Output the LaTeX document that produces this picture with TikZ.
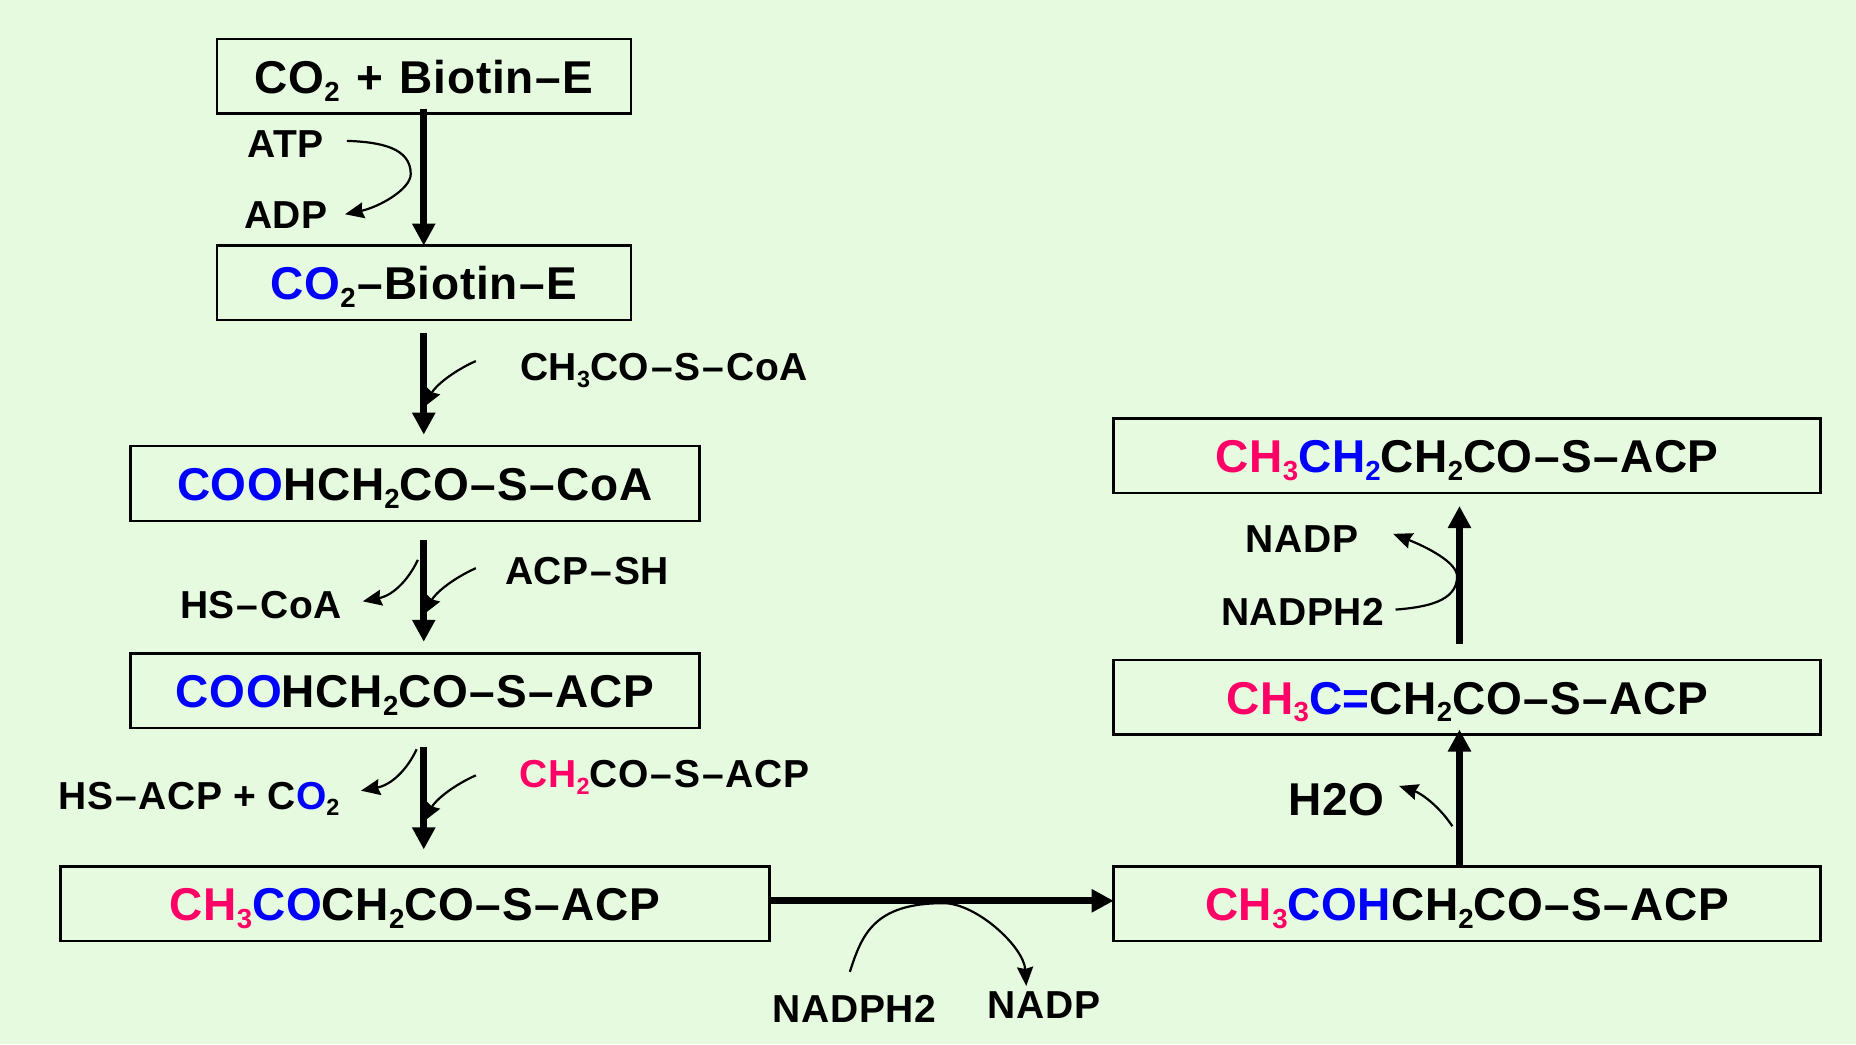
\documentclass[tikz,border=0pt]{standalone}
\usepackage{fontspec}
\setmainfont{Liberation Sans}[LetterSpace=1.5]
\usetikzlibrary{arrows.meta}
\definecolor{bgc}{HTML}{E6FAE0}
\definecolor{bluec}{HTML}{0000FF}
\definecolor{pinkc}{HTML}{FF0066}
\newcommand{\Bl}[1]{\textcolor{bluec}{#1}}
\newcommand{\Pk}[1]{\textcolor{pinkc}{#1}}
\newcommand{\dn}[1]{\raisebox{-0.17em}{\scalebox{0.6}{#1}}}
\newcommand{\dsk}{0.05}
\newcommand{\ds}{\kern\dsk em–\kern\dsk em}
\tikzset{
  boxn/.style={draw=black,line width=1.2pt,inner sep=0pt,outer sep=0pt,minimum height=37.3pt,
     text height=27.1pt,text depth=10.2pt,align=center,font=\fontsize{23}{23}\selectfont\bfseries\def\dsk{0.03}},
  lab/.style={anchor=base,inner sep=0pt,outer sep=0pt,yshift=0.2pt,font=\fontsize{19.5}{20}\selectfont\bfseries},
  mainarr/.style={line width=3.4pt,-{Triangle[length=11pt,width=11pt]}},
  thinarr/.style={line width=1.1pt,-{Stealth[length=9.5pt,width=8pt,inset=1pt]}}
}
\begin{document}
\begin{tikzpicture}[x=0.59184pt,y=-0.59184pt]
\path[fill=bgc] (0,0) rectangle (1568,882);
\useasboundingbox (0,0) rectangle (1568,882);
% boxes
\node[boxn,minimum width=207pt] (b1) at (358,64.5) {CO\dn{2}\kern0.08em{} + \kern0.06em{}Biotin\ds E};
\node[boxn,minimum width=207pt] (b2) at (358,239) {\Bl{CO}\dn{2}\ds Biotin\ds E};
\node[boxn,minimum width=284.5pt] (b3) at (350.5,408.5) {\Bl{COO}HCH\dn{2}CO\ds S\ds CoA};
\node[boxn,minimum width=284.5pt] (b4) at (350.5,583.5) {\Bl{COO}HCH\dn{2}CO\ds S\ds ACP};
\node[boxn,minimum width=354.5pt] (b5) at (350.5,763.5) {\Pk{CH\dn{3}}\Bl{CO}CH\dn{2}CO\ds S\ds ACP};
\node[boxn,minimum width=353.5pt] (b6) at (1239.5,763.5) {\Pk{CH\dn{3}}\Bl{COH}CH\dn{2}CO\ds S\ds ACP};
\node[boxn,minimum width=353.5pt] (b7) at (1239.5,589) {\Pk{CH\dn{3}}\Bl{C=}CH\dn{2}CO\ds S\ds ACP};
\node[boxn,minimum width=353.5pt] (b8) at (1239.5,385) {\Pk{CH\dn{3}}\Bl{CH\dn{2}}CH\dn{2}CO\ds S\ds ACP};
% labels
\node[lab] (atp) at (241.5,133) {ATP};
\node[lab] (adp) at (241.5,193) {ADP};
\node[lab] (acoa) at (561,322) {CH\dn{3}CO\ds S\ds CoA};
\node[lab] (acpsh) at (496,494) {ACP\ds SH};
\node[lab] (hscoa) at (220.5,523) {HS\ds CoA};
\node[lab] (mal) at (561.5,666) {\Pk{CH\dn{2}}CO\ds S\ds ACP};
\node[lab] (hsacp) at (168,684) {HS\ds ACP + C\Bl{O}\dn{2}};
\node[lab] (nph1) at (722,864) {NADPH2};
\node[lab] (np1) at (882,861) {NADP};
\node[lab,font=\fontsize{23}{23}\selectfont\bfseries] (hho) at (1129,689) {H2O};
\node[lab] (np2) at (1100,467) {NADP};
\node[lab] (nph2) at (1100.5,529) {NADPH2};
% main arrows
\coordinate (ax) at (358,0);
\draw[mainarr] ([yshift=2.5pt]b1.south) -- (b2.north);
\draw[mainarr,shorten <=6.5pt,shorten >=5.8pt] (b2.south) -- (ax |- b3.north);
\draw[mainarr,shorten <=9.5pt,shorten >=5.8pt] (ax |- b3.south) -- (ax |- b4.north);
\draw[mainarr,shorten <=9.5pt,shorten >=8.5pt] (ax |- b4.south) -- (ax |- b5.north);
\coordinate (hy) at (0,761);
\draw[mainarr] (b5.east |- hy) -- (b6.west |- hy);
\coordinate (ux) at (1233,0);
\draw[mainarr,shorten >=-2.5pt] (ux |- b6.north) -- (ux |- b7.south);
\draw[mainarr,shorten <=8pt,shorten >=6.5pt] (ux |- b7.north) -- (ux |- b8.south);
% thin curves
\coordinate (c1s) at (293,119); \coordinate (c1e) at (291.5,181);
\draw[thinarr] (c1s) .. controls (322,120) and (347,125) .. (347,147) .. controls (347,160) and (320,175) .. (c1e);
\coordinate (c2s) at (402,305); \coordinate (c2e) at (358,344);
\draw[thinarr] (c2s) .. controls (382,314) and (368,326) .. (c2e);
\coordinate (c3s) at (402,480); \coordinate (c3e) at (358,519);
\draw[thinarr] (c3s) .. controls (382,489) and (368,501) .. (c3e);
\coordinate (c4s) at (402,655); \coordinate (c4e) at (358,694);
\draw[thinarr] (c4s) .. controls (382,664) and (368,676) .. (c4e);
\coordinate (c5s) at (353,473); \coordinate (c5e) at (306.5,508);
\draw[thinarr] (c5s) .. controls (345,490) and (332,503) .. (c5e);
\coordinate (c6s) at (352,633); \coordinate (c6e) at (305,668);
\draw[thinarr] (c6s) .. controls (344,650) and (331,663) .. (c6e);
\coordinate (c7s) at (718,821); \coordinate (c7e) at (867,833);
\draw[thinarr] (c7s) .. controls (728,790) and (738,763) .. (797,763) .. controls (825,763) and (865,800) .. (c7e);
\coordinate (c8s) at (1179,515); \coordinate (c8e) at (1177,451);
\draw[thinarr] (c8s) .. controls (1205,513) and (1231,508) .. (1231,487) .. controls (1231,475) and (1205,462) .. (c8e);
\coordinate (c9s) at (1227,698); \coordinate (c9e) at (1182,664);
\draw[thinarr] (c9s) .. controls (1215,680) and (1200,670) .. (c9e);
\end{tikzpicture}
\end{document}
